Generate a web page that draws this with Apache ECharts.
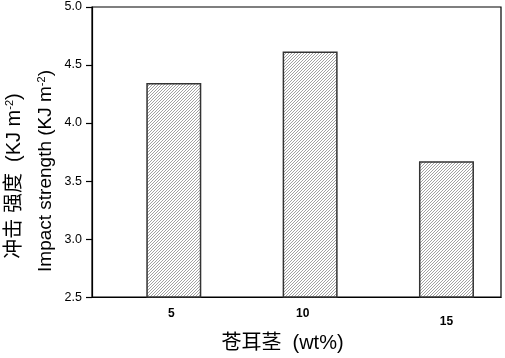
<!DOCTYPE html>
<html>
<head>
<meta charset="utf-8">
<script src="https://cdn.jsdelivr.net/npm/echarts@6/dist/echarts.min.js"></script>
<style>html,body{margin:0;padding:0;background:#fff;}#c{width:505px;height:358px;}</style>
</head>
<body>
<div id="c"></div>
<script>
// Data
const categories = [5, 10, 15];           // 苍耳茎 content (wt%)
const impactValues = [4.345, 4.616, 3.67]; // Impact strength (KJ m^-2)
const yTicks = [2.5, 3.0, 3.5, 4.0, 4.5, 5.0];

// Hatch pattern
function makeHatch() {
  const c = document.createElement('canvas');
  const s = 6;
  c.width = s; c.height = s;
  const g = c.getContext('2d');
  g.fillStyle = '#ffffff';
  g.fillRect(0, 0, s, s);
  g.strokeStyle = '#a2a2a2';
  g.lineWidth = 1;
  g.beginPath();
  for (let k = -1; k <= 1; k++) {
    g.moveTo(k * s, s);
    g.lineTo(k * s + s, 0);
    g.moveTo(k * s + 3, s);
    g.lineTo(k * s + 3 + s, 0);
  }
  g.stroke();
  return c;
}

const latin = 'Liberation Sans, Arial, Noto Sans CJK SC, sans-serif';
const chart = echarts.init(document.getElementById('c'), null, {renderer: 'canvas'});
chart.setOption({
  animation: false,
  backgroundColor: '#fff',
  grid: {left: 92, right: 4, top: 7, bottom: 51, show: true, borderColor: '#000', borderWidth: 1.2, backgroundColor: 'transparent'},
  xAxis: {
    type: 'value',
    min: 2, max: 17,
    splitLine: {show: false},
    axisTick: {show: false},
    axisLine: {lineStyle: {color: '#000', width: 1.2}},
    axisLabel: {
      customValues: categories,
      margin: 11,
      color: '#000',
      fontFamily: latin,
      fontWeight: 'bold',
      fontSize: 12,
      formatter: function (v) { return '{l' + v + '|' + v + '}'; },
      rich: {
        l5: {fontWeight: 'bold', fontSize: 12, fontFamily: latin, color: '#000', padding: [0, 5, 0, 0]},
        l10: {fontWeight: 'bold', fontSize: 12, fontFamily: latin, color: '#000', padding: [0, 15, 0, 0]},
        l15: {fontWeight: 'bold', fontSize: 12, fontFamily: latin, color: '#000', padding: [8, 0, 0, 0]}
      }
    },
    name: '苍耳茎  (wt%)',
    nameLocation: 'middle',
    nameGap: 29,
    nameTextStyle: {color: '#000', fontSize: 20, fontFamily: latin, padding: [0, 28, 0, 0]}
  },
  yAxis: {
    type: 'value',
    min: yTicks[0], max: yTicks[yTicks.length - 1], interval: 0.5,
    splitLine: {show: false},
    axisLine: {show: true, lineStyle: {color: '#000', width: 1.2}},
    axisTick: {show: true, length: 6, lineStyle: {color: '#000', width: 1.2}},
    axisLabel: {
      color: '#000', fontSize: 12.5, fontFamily: latin, margin: 10,
      formatter: function (v) { return v.toFixed(1); }
    }
  },
  series: [{
    type: 'bar',
    data: categories.map((c, i) => [c, impactValues[i]]),
    barWidth: 55,
    itemStyle: {
      color: {image: makeHatch(), repeat: 'repeat'},
      borderColor: '#333',
      borderWidth: 1.5
    }
  }],
  graphic: [
    {
      type: 'text', x: 14, y: 176, rotation: Math.PI / 2,
      style: {
        text: '{n|冲击 强度  (KJ m}{s|-2}{n|)}',
        align: 'center', verticalAlign: 'middle',
        rich: {
          n: {fontSize: 20, fontFamily: latin, fill: '#000', color: '#000'},
          s: {fontSize: 11, fontFamily: latin, verticalAlign: 'top', fill: '#000', color: '#000'}
        }
      }
    },
    {
      type: 'text', x: 46, y: 171, rotation: Math.PI / 2,
      style: {
        text: '{n|Impact strength (KJ m}{s|-2}{n|)}',
        align: 'center', verticalAlign: 'middle',
        rich: {
          n: {fontSize: 19, fontFamily: latin, fill: '#000', color: '#000'},
          s: {fontSize: 11, fontFamily: latin, verticalAlign: 'top', fill: '#000', color: '#000'}
        }
      }
    }
  ]
});
</script>
</body>
</html>
